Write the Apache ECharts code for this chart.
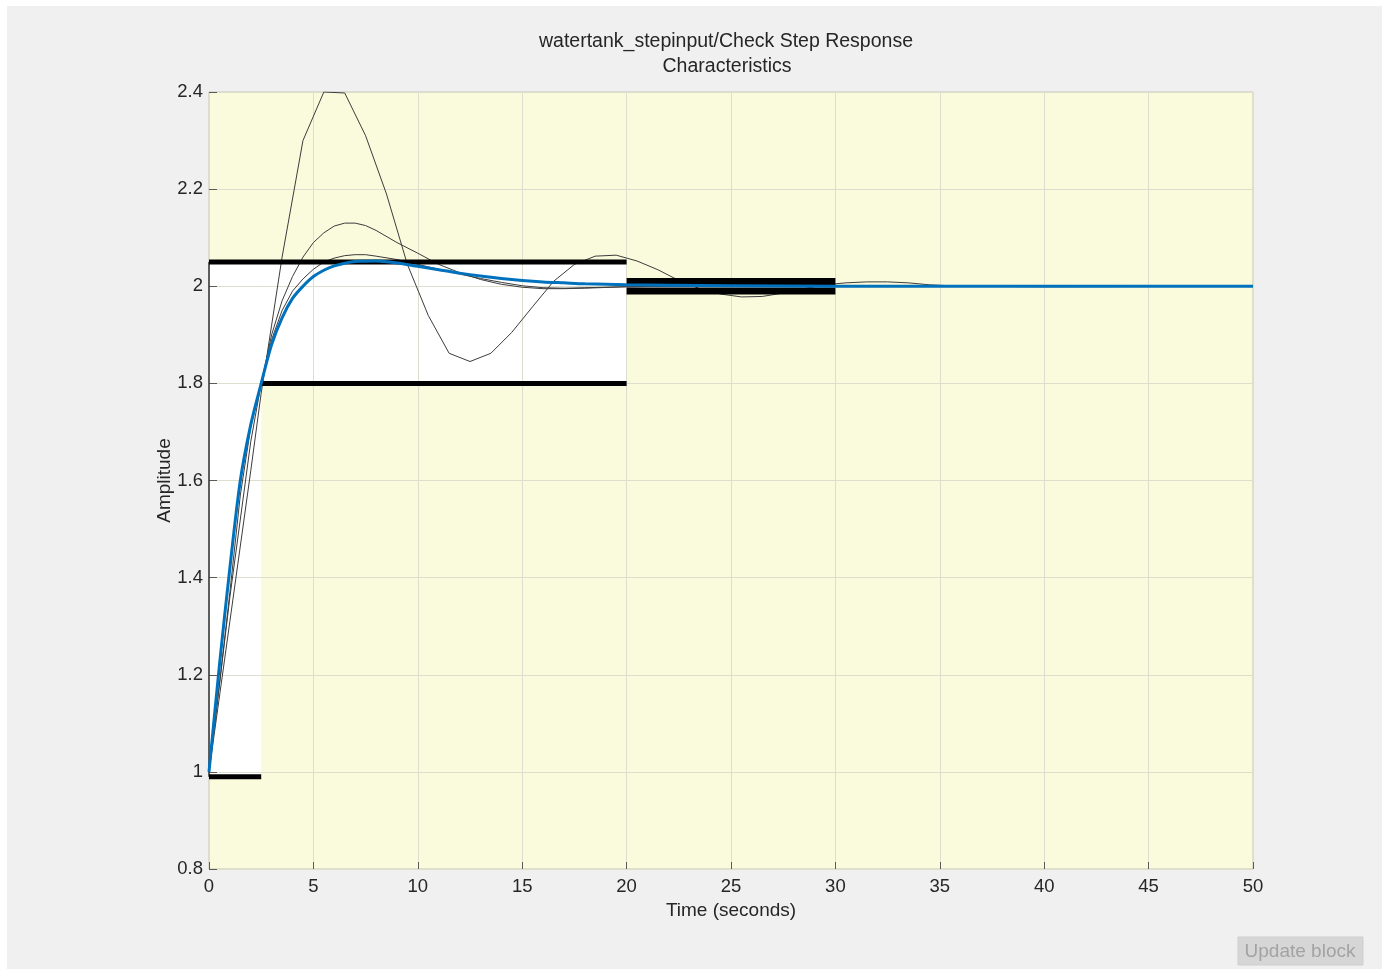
<!DOCTYPE html>
<html>
<head>
<meta charset="utf-8">
<title>watertank_stepinput/Check Step Response Characteristics</title>
<script src="https://cdn.jsdelivr.net/npm/echarts@6/dist/echarts.min.js"></script>
<style>
    html, body { margin: 0; padding: 0; background: #ffffff; }
    #chart { width: 1382px; height: 970px; }
</style>
</head>
<body>
<div id="chart"></div>
<script type="text/javascript">
// nominal response (blue)
var tNominal = [0, 0.5, 1, 1.5, 2, 2.5, 3, 3.5, 4, 4.5, 5, 5.5, 6, 7, 8, 9, 10, 11, 12, 13, 14, 15, 16, 17, 18, 20, 22, 25, 30, 35, 40, 45, 50];
var yNominal = [1.0, 1.22, 1.42, 1.6, 1.715, 1.8, 1.88, 1.935, 1.975, 2.0, 2.02, 2.033, 2.042, 2.051, 2.052, 2.048, 2.041, 2.034, 2.027, 2.021, 2.016, 2.012, 2.009, 2.007, 2.005, 2.003, 2.002, 2.001, 2.0, 2.0, 2.0, 2.0, 2.0];

// earlier responses (grey)
var tRunA = [0, 0.5, 1, 1.5, 2, 2.5, 3, 3.5, 4, 4.5, 5, 5.5, 6, 6.5, 7, 7.5, 8, 9, 10, 11, 12, 13, 14, 15, 16, 17, 18, 19, 20, 22, 25, 50];
var yRunA = [1.0, 1.18, 1.37, 1.57, 1.71, 1.8, 1.89, 1.95, 1.99, 2.015, 2.035, 2.05, 2.058, 2.063, 2.065, 2.065, 2.062, 2.055, 2.045, 2.035, 2.025, 2.016, 2.008, 2.001, 1.997, 1.996, 1.997, 1.998, 1.999, 2.0, 2.0, 2.0];

var tRunB = [0, 1, 2, 2.5, 3, 3.5, 4, 4.5, 5, 5.5, 6, 6.5, 7, 7.5, 8, 9, 10, 11, 12, 13, 14, 15, 16, 17, 18, 20, 22, 25, 50];
var yRunB = [1.0, 1.36, 1.68, 1.8, 1.9, 1.97, 2.02, 2.06, 2.09, 2.11, 2.124, 2.13, 2.13, 2.125, 2.115, 2.09, 2.068, 2.045, 2.028, 2.014, 2.004, 1.998, 1.995, 1.995, 1.996, 1.999, 2.0, 2.0, 2.0];

var tRunC = [0, 1, 2, 2.5, 3, 3.5, 4.5, 5.5, 6.5, 7.5, 8.5, 9.5, 10.5, 11.5, 12.5, 13.5, 14.5, 15.5, 16.5, 17.5, 18.5, 19.5, 20.5, 21.5, 22.5, 23.5, 24.5, 25.5, 26.5, 27.5, 28.5, 29.5, 30.5, 31.5, 32.5, 33.5, 34.5, 36, 40, 50];
var yRunC = [1.0, 1.31, 1.62, 1.78, 1.92, 2.06, 2.3, 2.4, 2.398, 2.31, 2.19, 2.045, 1.94, 1.862, 1.845, 1.862, 1.905, 1.958, 2.01, 2.045, 2.062, 2.064, 2.052, 2.034, 2.012, 1.995, 1.984, 1.978, 1.979, 1.986, 1.995, 2.003, 2.007, 2.009, 2.009, 2.007, 2.003, 2.0, 1.999, 2.0];

// step response bounds
var finalTime = 50;
var riseTime = 2.5, riseLevel = 1.8;
var settleStart = 20, settleEnd = 30;
var overshootLevel = 2.05, undershootLevel = 0.99;
var settleUpper = 2.01, settleLower = 1.99;

function pairs(t, y) {
    var out = [];
    for (var i = 0; i < t.length; i++) {
        out.push([t[i], y[i]]);
    }
    return out;
}

function boundLine(name, x0, x1, level, width) {
    return {
        name: name,
        type: 'line',
        z: 5,
        symbol: 'none',
        silent: true,
        lineStyle: { color: '#000000', width: width },
        data: [[x0, level], [x1, level]]
    };
}

var font = 'Liberation Sans, Arial, Helvetica, sans-serif';
var chart = echarts.init(document.getElementById('chart'));

var option = {
    backgroundColor: '#ffffff',
    animation: false,
    graphic: [
        { type: 'rect', z: -10, shape: { x: 7, y: 6, width: 1375, height: 963 }, style: { fill: '#f0f0f0' } },
        { type: 'text', x: 726, y: 42, style: { text: 'watertank_stepinput/Check Step Response', font: '19.5px ' + font, fill: '#262626', textAlign: 'center', textVerticalAlign: 'middle' } },
        { type: 'text', x: 727, y: 67, style: { text: 'Characteristics', font: '19.5px ' + font, fill: '#262626', textAlign: 'center', textVerticalAlign: 'middle' } },
        { type: 'rect', shape: { x: 1238, y: 937, width: 125, height: 28 }, style: { fill: '#d6d6d6', stroke: '#cfcfcf' } },
        { type: 'text', x: 1300, y: 952, style: { text: 'Update block', font: '19px ' + font, fill: '#a3a3a3', textAlign: 'center', textVerticalAlign: 'middle' } }
    ],
    grid: {
        left: 209,
        right: 129,
        top: 92,
        bottom: 101,
        show: true,
        backgroundColor: '#fafadd',
        borderColor: '#c9c9b5',
        borderWidth: 1
    },
    xAxis: {
        type: 'value',
        z: 3,
        min: 0,
        max: finalTime,
        interval: 5,
        name: 'Time (seconds)',
        nameLocation: 'middle',
        nameGap: 31,
        nameTextStyle: { color: '#262626', fontSize: 19, fontFamily: font },
        axisLine: { show: false },
        axisTick: { show: true, inside: true, length: 7, lineStyle: { color: '#5a5a5a' } },
        axisLabel: { color: '#262626', fontSize: 18.5, fontFamily: font, margin: 8 },
        splitLine: { show: true, lineStyle: { color: '#dedecf', width: 1 } }
    },
    yAxis: {
        type: 'value',
        z: 3,
        min: 0.8,
        max: 2.4,
        interval: 0.2,
        name: 'Amplitude',
        nameLocation: 'middle',
        nameGap: 35,
        nameMoveOverlap: false,
        nameTextStyle: { color: '#262626', fontSize: 19, fontFamily: font },
        axisLine: { show: false },
        axisTick: { show: true, inside: true, length: 8, lineStyle: { color: '#5a5a5a' } },
        axisLabel: {
            color: '#262626', fontSize: 18.5, fontFamily: font, margin: 6,
            formatter: function (value) {
                return String(parseFloat(value.toFixed(1)));
            }
        },
        splitLine: { show: true, lineStyle: { color: '#dedecf', width: 1 } }
    },
    series: [
        {
            name: 'feasible',
            type: 'line',
            z: 1,
            symbol: 'none',
            silent: true,
            data: [],
            markArea: {
                silent: true,
                itemStyle: { color: '#ffffff' },
                data: [
                    [{ xAxis: 0, yAxis: undershootLevel }, { xAxis: riseTime, yAxis: overshootLevel }],
                    [{ xAxis: riseTime, yAxis: riseLevel }, { xAxis: settleStart, yAxis: overshootLevel }],
                    [{ xAxis: settleStart, yAxis: settleLower }, { xAxis: settleEnd, yAxis: settleUpper }]
                ]
            }
        },
        {
            name: 'edge', type: 'line', z: 5, symbol: 'none', silent: true,
            lineStyle: { color: '#333333', width: 1.5 },
            data: [[0, undershootLevel], [0, overshootLevel]]
        },
        { name: 'runC', type: 'line', z: 4, symbol: 'none', smooth: false, lineStyle: { color: '#3c3c3c', width: 1 }, data: pairs(tRunC, yRunC) },
        { name: 'runB', type: 'line', z: 4, symbol: 'none', smooth: false, lineStyle: { color: '#3c3c3c', width: 1 }, data: pairs(tRunB, yRunB) },
        { name: 'runA', type: 'line', z: 4, symbol: 'none', smooth: false, lineStyle: { color: '#3c3c3c', width: 1 }, data: pairs(tRunA, yRunA) },
        boundLine('overshoot', 0, settleStart, overshootLevel, 5),
        boundLine('rise', riseTime, settleStart, riseLevel, 5),
        boundLine('undershoot', 0, riseTime, undershootLevel, 5),
        boundLine('settleUpper', settleStart, settleEnd, settleUpper, 7),
        boundLine('settleLower', settleStart, settleEnd, settleLower, 7),
        { name: 'nominal', type: 'line', z: 6, symbol: 'none', smooth: 0.3, lineStyle: { color: '#0072bd', width: 3 }, data: pairs(tNominal, yNominal) }
    ]
};

chart.setOption(option);
</script>
</body>
</html>
